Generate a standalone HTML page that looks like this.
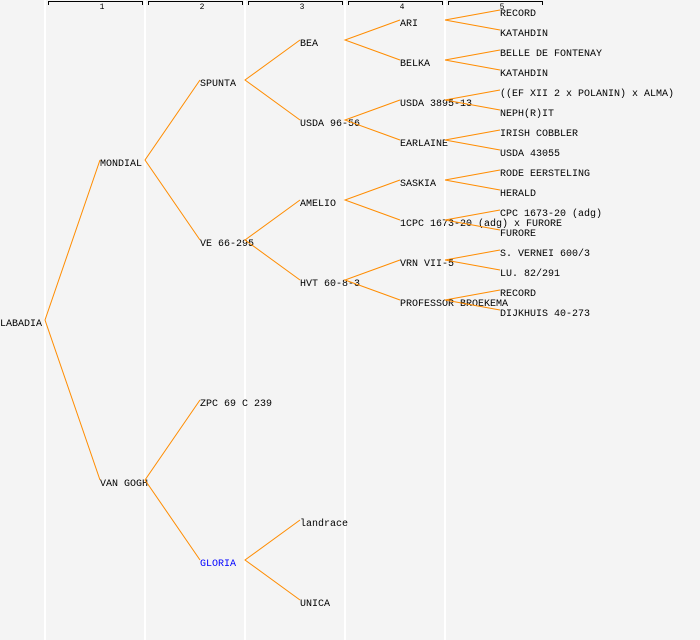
<!DOCTYPE html>
<html><head><meta charset="utf-8"><style>
html,body{margin:0;padding:0;background:#f4f4f4;}
svg{display:block;}
text{font-family:"Liberation Mono","DejaVu Sans Mono",monospace;font-size:10px;fill:#000;}
.h{font-size:8px;}
</style></head><body>
<svg width="700" height="640" viewBox="0 0 700 640" xmlns="http://www.w3.org/2000/svg">
<rect width="700" height="640" fill="#f4f4f4"/>
<g fill="#ffffff">
<rect x="44" y="0" width="2" height="640"/><rect x="144" y="0" width="2" height="640"/>
<rect x="244" y="0" width="2" height="640"/><rect x="344" y="0" width="2" height="640"/>
<rect x="444" y="0" width="2" height="640"/>
</g>
<g stroke="#000" stroke-width="1" fill="none">
<path d="M48.5 5V1.5H142.5V5"/><path d="M148.5 5V1.5H242.5V5"/><path d="M248.5 5V1.5H342.5V5"/>
<path d="M348.5 5V1.5H442.5V5"/><path d="M448.5 5V1.5H542.5V5"/>
</g>
<g class="h" text-anchor="middle">
<text class="h" x="102" y="9">1</text><text class="h" x="202" y="9">2</text><text class="h" x="302" y="9">3</text>
<text class="h" x="402" y="9">4</text><text class="h" x="502" y="9">5</text>
</g>
<g>
<text x="0" y="326">LABADIA</text>
<text x="100" y="166">MONDIAL</text><text x="100" y="486">VAN GOGH</text>
<text x="200" y="86">SPUNTA</text><text x="200" y="246">VE 66-295</text><text x="200" y="406">ZPC 69 C 239</text><text x="200" y="566" style="fill:#0000ff">GLORIA</text>
<text x="300" y="46">BEA</text><text x="300" y="126">USDA 96-56</text><text x="300" y="206">AMELIO</text><text x="300" y="286">HVT 60-8-3</text><text x="300" y="526">landrace</text><text x="300" y="606">UNICA</text>
<text x="400" y="26">ARI</text><text x="400" y="66">BELKA</text><text x="400" y="106">USDA 3895-13</text><text x="400" y="146">EARLAINE</text>
<text x="400" y="186">SASKIA</text><text x="400" y="226">1CPC 1673-20 (adg) x FURORE</text><text x="400" y="266">VRN VII-5</text><text x="400" y="306">PROFESSOR BROEKEMA</text>
<text x="500" y="16">RECORD</text><text x="500" y="36">KATAHDIN</text><text x="500" y="56">BELLE DE FONTENAY</text><text x="500" y="76">KATAHDIN</text>
<text x="500" y="96">((EF XII 2 x POLANIN) x ALMA)</text><text x="500" y="116">NEPH(R)IT</text><text x="500" y="136">IRISH COBBLER</text><text x="500" y="156">USDA 43055</text>
<text x="500" y="176">RODE EERSTELING</text><text x="500" y="196">HERALD</text><text x="500" y="216">CPC 1673-20 (adg)</text><text x="500" y="236">FURORE</text>
<text x="500" y="256">S. VERNEI 600/3</text><text x="500" y="276">LU. 82/291</text><text x="500" y="296">RECORD</text><text x="500" y="316">DIJKHUIS 40-273</text>
</g>
<g stroke="#ff8c00" stroke-width="1" fill="none">
<path d="M100 160L45 320L100 480"/>
<path d="M200 80L145 160L200 240"/><path d="M200 400L145 480L200 560"/>
<path d="M300 40L245 80L300 120"/><path d="M300 200L245 240L300 280"/><path d="M300 520L245 560L300 600"/>
<path d="M400 20L345 40L400 60"/><path d="M400 100L345 120L400 140"/><path d="M400 180L345 200L400 220"/><path d="M400 260L345 280L400 300"/>
<path d="M500 10L445 20L500 30"/><path d="M500 50L445 60L500 70"/><path d="M500 90L445 100L500 110"/><path d="M500 130L445 140L500 150"/>
<path d="M500 170L445 180L500 190"/><path d="M500 210L445 220L500 230"/><path d="M500 250L445 260L500 270"/><path d="M500 290L445 300L500 310"/>
</g>
</svg>
</body></html>
